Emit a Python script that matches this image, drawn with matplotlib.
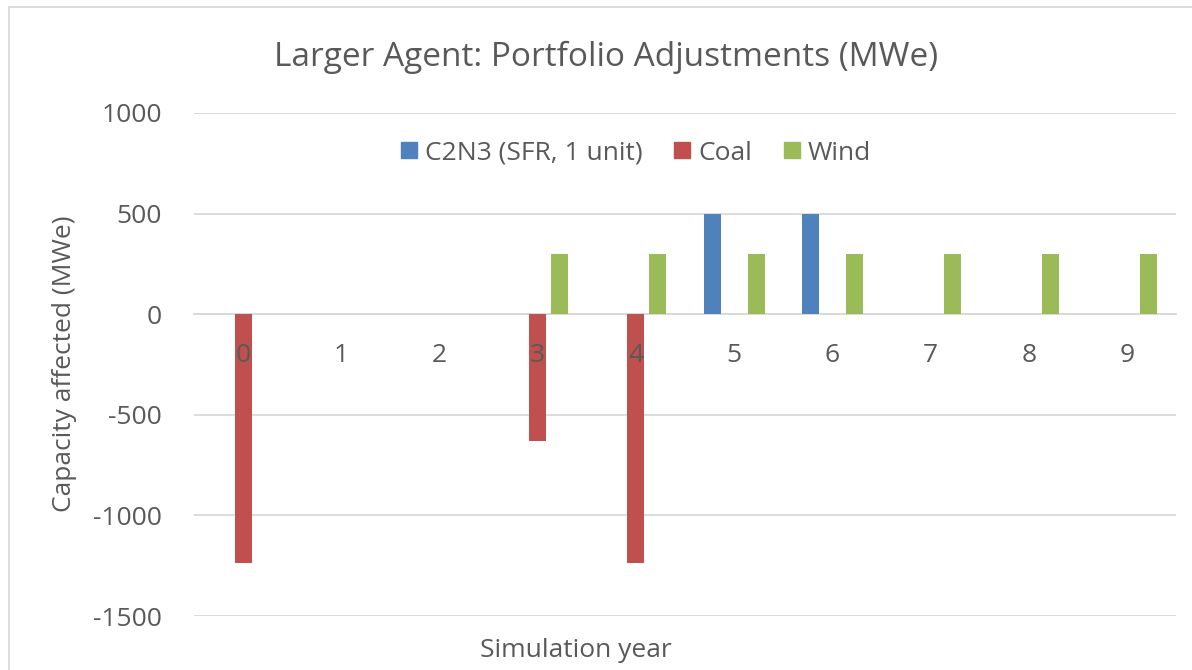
import numpy as np
import matplotlib
matplotlib.use("Agg")
import matplotlib.pyplot as plt
from matplotlib.lines import Line2D
from matplotlib.patches import Rectangle

# chart data (MWe)
years = [0, 1, 2, 3, 4, 5, 6, 7, 8, 9]
c2n3 = [0, 0, 0, 0, 0, 500, 500, 0, 0, 0]
coal = [-1235, 0, 0, -630, -1235, 0, 0, 0, 0, 0]
wind = [0, 0, 0, 300, 300, 300, 300, 300, 300, 300]
series_names = ["C2N3 (SFR, 1 unit)", "Coal", "Wind"]

blue = "#4F81BD"
red = "#C0504D"
green = "#9BBB59"
txt = "#595959"
grid = "#D9D9D9"

plt.rcParams['font.family'] = ['Open Sans', 'DejaVu Sans']
plt.rcParams['axes.unicode_minus'] = False

W, H = 1192, 670
fig = plt.figure(figsize=(W / 100, H / 100), dpi=100)
ax = fig.add_axes([194 / W, 1 - 616 / H, (1176 - 194) / W, (616 - 113) / H])

x = np.arange(len(years))
bw = 0.173
off = 0.224
ax.bar(x - off, c2n3, width=bw, color=blue, zorder=3)
ax.bar(x, coal, width=bw, color=red, zorder=3)
ax.bar(x + off, wind, width=bw, color=green, zorder=3)

ax.set_xlim(-0.5, len(years) - 0.5)
ax.set_ylim(-1500, 1000)
ax.set_yticks(np.arange(-1500, 1001, 500))
ax.yaxis.grid(True, color=grid, linewidth=1.3)
ax.set_axisbelow(True)

for s in ["top", "right", "left"]:
    ax.spines[s].set_visible(False)
ax.spines["bottom"].set_position(("data", 0))
ax.spines["bottom"].set_color(grid)
ax.spines["bottom"].set_linewidth(1.3)
ax.spines["bottom"].set_zorder(2)

ax.set_xticks(x)
ax.set_xticklabels([str(y) for y in years])
ax.tick_params(axis="x", length=0, pad=21, labelsize=19, labelcolor=txt)
ax.tick_params(axis="y", length=0, pad=23, labelsize=19, labelcolor=txt)
# category labels sit on top of the bars, like in Excel
ax.xaxis.set_zorder(5)

fig.text(606 / W, 1 - 66 / H, "Larger Agent: Portfolio Adjustments (MWe)",
         ha="center", va="baseline", fontsize=24, color=txt)
fig.text(576 / W, 1 - 657 / H, "Simulation year", ha="center", va="baseline",
         fontsize=19, color=txt)
fig.text(65 / W, 1 - 364 / H, "Capacity affected (MWe)", rotation=90,
         ha="center", va="center", fontsize=19, color=txt)

handles = [Line2D([], [], marker="s", linestyle="none", markersize=11,
                  markerfacecolor=c, markeredgecolor=c)
           for c in (blue, red, green)]
leg = fig.legend(handles, series_names, loc="center", ncol=3,
                 bbox_to_anchor=(636 / W, 1 - 153 / H), frameon=False,
                 fontsize=19, handlelength=0.6, handletextpad=0.3,
                 columnspacing=1.2, borderpad=0)
for t in leg.get_texts():
    t.set_color(txt)

# chart area border
fig.patches.append(Rectangle((9 / W, -0.1), 1.2, 1.1 - 7 / H,
                             transform=fig.transFigure, fill=False,
                             edgecolor=grid, linewidth=1.3))

fig.savefig("out.png", dpi=100)
